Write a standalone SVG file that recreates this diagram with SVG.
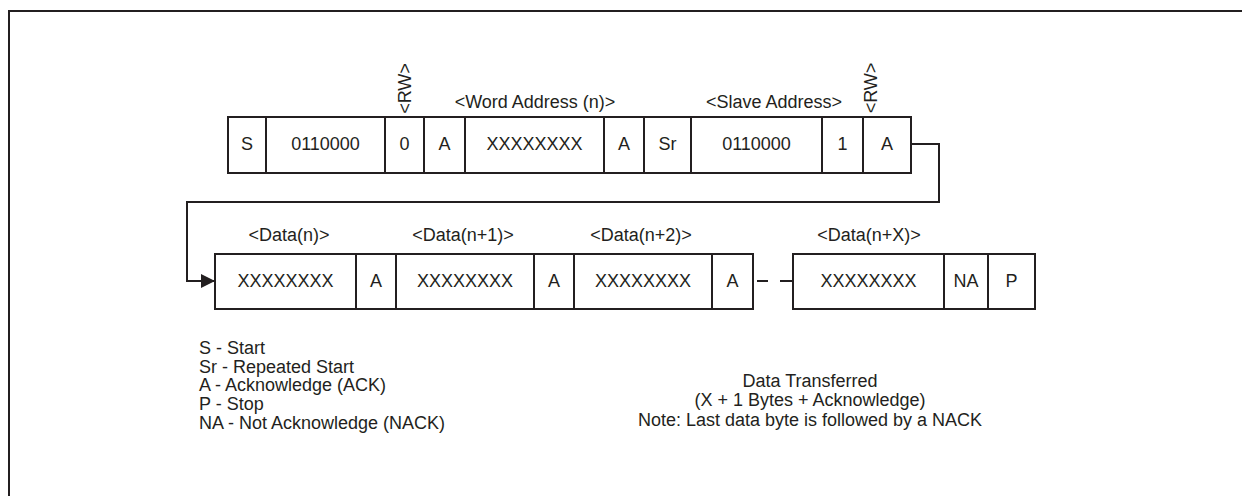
<svg xmlns="http://www.w3.org/2000/svg" width="1242" height="496" viewBox="0 0 1242 496">
<defs>
<style>
.b{fill:#fff;stroke:#231f20;stroke-width:2}
.t{font-family:"Liberation Sans",Arial,sans-serif;font-size:18px;fill:#231f20;text-anchor:middle}
.l{font-family:"Liberation Sans",Arial,sans-serif;font-size:18px;fill:#231f20}
.c{fill:none;stroke:#231f20;stroke-width:2}
</style>
<marker id="arr" markerUnits="userSpaceOnUse" markerWidth="14" markerHeight="14" refX="14" refY="7" orient="auto">
<path d="M0,0 L14,7 L0,14 z" fill="#231f20"/>
</marker>
</defs>
<rect width="1242" height="496" fill="#fff"/>
<path class="c" d="M9,496 V11 H1242"/>

<g id="row1">
<g id="r1-s"><rect class="b" x="228" y="117" width="38" height="56"/><text class="t" x="247" y="150">S</text></g>
<g id="r1-addr"><rect class="b" x="266" y="117" width="119" height="56"/><text class="t" x="325.5" y="150">0110000</text></g>
<g id="r1-rw"><rect class="b" x="385" y="117" width="39" height="56"/><text class="t" x="404.5" y="150">0</text></g>
<g id="r1-a1"><rect class="b" x="424" y="117" width="41" height="56"/><text class="t" x="444.5" y="150">A</text></g>
<g id="r1-word"><rect class="b" x="465" y="117" width="139" height="56"/><text class="t" x="534.5" y="150">XXXXXXXX</text></g>
<g id="r1-a2"><rect class="b" x="604" y="117" width="40" height="56"/><text class="t" x="624" y="150">A</text></g>
<g id="r1-sr"><rect class="b" x="644" y="117" width="47" height="56"/><text class="t" x="667.5" y="150">Sr</text></g>
<g id="r1-addr2"><rect class="b" x="691" y="117" width="131" height="56"/><text class="t" x="756.5" y="150">0110000</text></g>
<g id="r1-rw2"><rect class="b" x="822" y="117" width="41" height="56"/><text class="t" x="842.5" y="150">1</text></g>
<g id="r1-a3"><rect class="b" x="863" y="117" width="48" height="56"/><text class="t" x="887" y="150">A</text></g>
</g>

<g id="labels1">
<text class="t" transform="translate(411,88.5) rotate(-90)">&lt;RW&gt;</text>
<text class="t" x="535" y="108">&lt;Word Address (n)&gt;</text>
<text class="t" x="774" y="108">&lt;Slave Address&gt;</text>
<text class="t" transform="translate(877,88) rotate(-90)">&lt;RW&gt;</text>
</g>

<g id="row2">
<g id="r2-d0"><rect class="b" x="215" y="254" width="141" height="55"/><text class="t" x="285.5" y="287">XXXXXXXX</text></g>
<g id="r2-a0"><rect class="b" x="356" y="254" width="40" height="55"/><text class="t" x="376" y="287">A</text></g>
<g id="r2-d1"><rect class="b" x="396" y="254" width="138" height="55"/><text class="t" x="465" y="287">XXXXXXXX</text></g>
<g id="r2-a1"><rect class="b" x="534" y="254" width="40" height="55"/><text class="t" x="554" y="287">A</text></g>
<g id="r2-d2"><rect class="b" x="574" y="254" width="138" height="55"/><text class="t" x="643" y="287">XXXXXXXX</text></g>
<g id="r2-a2"><rect class="b" x="712" y="254" width="41" height="55"/><text class="t" x="732.5" y="287">A</text></g>
<g id="r2-dx"><rect class="b" x="793" y="254" width="151" height="55"/><text class="t" x="868.5" y="287">XXXXXXXX</text></g>
<g id="r2-na"><rect class="b" x="944" y="254" width="44" height="55"/><text class="t" x="966" y="287">NA</text></g>
<g id="r2-p"><rect class="b" x="988" y="254" width="47" height="55"/><text class="t" x="1011.5" y="287">P</text></g>
</g>

<g id="labels2">
<text class="t" x="289" y="241">&lt;Data(n)&gt;</text>
<text class="t" x="463" y="241">&lt;Data(n+1)&gt;</text>
<text class="t" x="641" y="241">&lt;Data(n+2)&gt;</text>
<text class="t" x="869" y="241">&lt;Data(n+X)&gt;</text>
</g>

<g id="connectors">
<path class="c" d="M911,144 H939 V202 H187 V281 H215" marker-end="url(#arr)"/>
<path class="c" d="M757,281 H768 M780,281 H792"/>
</g>

<g id="legend">
<text class="l" x="199" y="354">S - Start</text>
<text class="l" x="199" y="372.7">Sr - Repeated Start</text>
<text class="l" x="199" y="391.3">A - Acknowledge (ACK)</text>
<text class="l" x="199" y="410">P - Stop</text>
<text class="l" x="199" y="428.6">NA - Not Acknowledge (NACK)</text>
</g>

<g id="note">
<text class="t" x="810" y="386.5">Data Transferred</text>
<text class="t" x="810" y="406">(X + 1 Bytes + Acknowledge)</text>
<text class="t" x="810" y="425.5">Note: Last data byte is followed by a NACK</text>
</g>
</svg>
